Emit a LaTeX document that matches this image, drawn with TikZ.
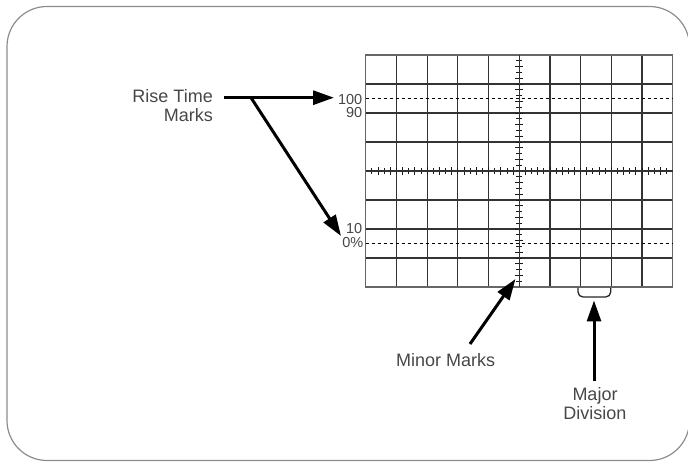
\documentclass[tikz,border=0pt]{standalone}
\usepackage{fontspec}
\setmainfont{Liberation Sans}
\usetikzlibrary{arrows.meta}
\begin{document}
\begin{tikzpicture}[x=1pt,y=-1pt,
  lbl/.style={text=black!72,font=\fontsize{18}{19}\selectfont,inner sep=0pt},
  num/.style={text=black!72,font=\fontsize{14.5}{14}\selectfont,inner sep=0pt,anchor=east},
  arr/.style={line width=3pt,-{Triangle[length=21pt,width=14pt]}},
  gridline/.style={black!80,line width=1.2pt},
  dashline/.style={black,line width=1.8pt,dash pattern=on 3.2pt off 2.8pt},
  tick/.style={black!90,line width=0.8pt}]
\useasboundingbox (0,0) rectangle (688,462);
% outer frame
\draw[black!45,line width=1.2pt,rounded corners=40pt] (7,6.5) rectangle (689.5,460.5);
% graticule
\def\L{365.7}\def\T{55}\def\W{30.7}\def\H{29}
\foreach \i in {1,...,9} {
  \draw[gridline] ({\L+\i*\W},\T) -- ({\L+\i*\W},{\T+8*\H});
}
\foreach \j in {1,...,7} {
  \draw[gridline] (\L,{\T+\j*\H}) -- ({\L+10*\W},{\T+\j*\H});
}
\draw[black!60,line width=1.3pt] (\L,\T) rectangle ({\L+10*\W},{\T+8*\H});
% minor ticks
\foreach \i in {1,...,49} {
  \pgfmathsetmacro{\tl}{ifthenelse(mod(\i,2)==0,4,2.8)}
  \draw[tick] ({\L+\i*\W/5},{\T+4*\H-\tl}) -- ({\L+\i*\W/5},{\T+4*\H+\tl});
}
\foreach \j in {1,...,39} {
  \pgfmathsetmacro{\tl}{ifthenelse(mod(\j,2)==0,4,3)}
  \draw[tick] ({\L+5*\W-\tl},{\T+\j*\H/5}) -- ({\L+5*\W+\tl},{\T+\j*\H/5});
}
\draw[gridline] (\L,{\T+4*\H}) -- ({\L+10*\W},{\T+4*\H});
\draw[gridline] ({\L+5*\W},\T) -- ({\L+5*\W},{\T+8*\H});
% dashed rise time lines
\draw[dashline] (\L,{\T+1.5*\H}) -- ({\L+10*\W},{\T+1.5*\H});
\draw[dashline] (\L,{\T+6.5*\H}) -- ({\L+10*\W},{\T+6.5*\H});
% numbers
\node[num] (n100) at (362.5,99.5) {100};
\node[num] (n90) at (362.5,112.5) {90};
\node[num] (n10) at (362.5,228.5) {10};
\node[num] (n0) at (363.5,242.5) {0\%};
% labels
\node[lbl,align=right,anchor=east] (rise) at (213,106) {Rise Time\\Marks};
\node[lbl] (minor) at (445.7,360.5) {Minor Marks};
\node[lbl,align=center] (major) at (595,404) {Major\\Division};
% connectors
\coordinate (rs) at (224,97.7);
\coordinate (br) at (251,97.7);
\coordinate (t100) at (334,97.7);
\coordinate (t0) at (341,236);
\coordinate (ms) at (470,344);
\coordinate (mt) at (515.5,279);
\coordinate (js) at (594,381);
\coordinate (jt) at (594,300.5);
\draw[arr] (rs) -- (t100);
\draw[arr] (br) -- (t0);
\draw[arr] (ms) -- (mt);
\draw[arr] (js) -- (jt);
% bracket
\coordinate (b1) at (578,288);
\coordinate (b2) at (610.7,288);
\draw[black!85,line width=1.3pt,rounded corners=5pt] (b1) -- ++(0,9) -- ++(32.7,0) -- (b2);
\end{tikzpicture}
\end{document}
